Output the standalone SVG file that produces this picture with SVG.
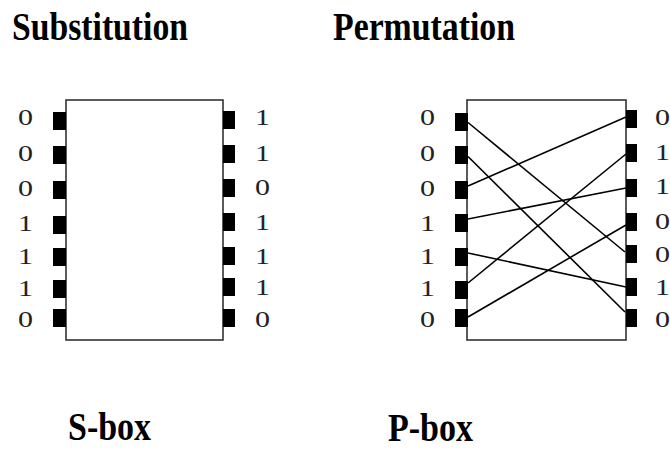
<svg xmlns="http://www.w3.org/2000/svg" width="670" height="450" viewBox="0 0 670 450">
<style>
.title{font-family:"Liberation Serif","Times New Roman",serif;font-weight:bold;font-size:41px;fill:#000}
.bit{font-family:"Liberation Serif","Times New Roman",serif;font-size:24px;fill:#222}
.box{fill:#fff;stroke:#333;stroke-width:1.6}
.pin{fill:#000}
.wire{stroke:#000;stroke-width:1.6;fill:none}
</style>
<rect width="670" height="450" fill="#fff"/>
<text class="title" x="12" y="40" textLength="176" lengthAdjust="spacingAndGlyphs">Substitution</text>
<text class="title" x="333" y="40" textLength="182" lengthAdjust="spacingAndGlyphs">Permutation</text>

<g id="sbox">
<rect class="box" x="66" y="100" width="157" height="240"/>
<g class="pin">
<rect x="53" y="112" width="13" height="18"/>
<rect x="53" y="146" width="13" height="18"/>
<rect x="53" y="181" width="13" height="18"/>
<rect x="53" y="216" width="13" height="18"/>
<rect x="53" y="248" width="13" height="18"/>
<rect x="53" y="280" width="13" height="18"/>
<rect x="53" y="309" width="13" height="18"/>
<rect x="223" y="111" width="12" height="18"/>
<rect x="223" y="145" width="12" height="18"/>
<rect x="223" y="179" width="12" height="18"/>
<rect x="223" y="213" width="12" height="18"/>
<rect x="223" y="247" width="12" height="18"/>
<rect x="223" y="278" width="12" height="18"/>
<rect x="223" y="309" width="12" height="18"/>
</g>
<text class="bit" x="18" y="125" textLength="15" lengthAdjust="spacingAndGlyphs">0</text>
<text class="bit" x="18" y="161" textLength="15" lengthAdjust="spacingAndGlyphs">0</text>
<text class="bit" x="18" y="196" textLength="15" lengthAdjust="spacingAndGlyphs">0</text>
<text class="bit" x="18" y="231" textLength="15" lengthAdjust="spacingAndGlyphs">1</text>
<text class="bit" x="18" y="264" textLength="15" lengthAdjust="spacingAndGlyphs">1</text>
<text class="bit" x="18" y="296" textLength="15" lengthAdjust="spacingAndGlyphs">1</text>
<text class="bit" x="18" y="327" textLength="15" lengthAdjust="spacingAndGlyphs">0</text>
<text class="bit" x="255" y="125" textLength="15" lengthAdjust="spacingAndGlyphs">1</text>
<text class="bit" x="255" y="161" textLength="15" lengthAdjust="spacingAndGlyphs">1</text>
<text class="bit" x="255" y="195" textLength="15" lengthAdjust="spacingAndGlyphs">0</text>
<text class="bit" x="255" y="230" textLength="15" lengthAdjust="spacingAndGlyphs">1</text>
<text class="bit" x="255" y="264" textLength="15" lengthAdjust="spacingAndGlyphs">1</text>
<text class="bit" x="255" y="295" textLength="15" lengthAdjust="spacingAndGlyphs">1</text>
<text class="bit" x="255" y="327" textLength="15" lengthAdjust="spacingAndGlyphs">0</text>
</g>

<g id="pbox">
<rect class="box" x="467" y="100" width="159" height="240"/>
<g class="pin">
<rect x="455" y="113" width="13" height="18"/>
<rect x="455" y="146" width="13" height="18"/>
<rect x="455" y="181" width="13" height="18"/>
<rect x="455" y="214" width="13" height="18"/>
<rect x="455" y="248" width="13" height="18"/>
<rect x="455" y="281" width="13" height="18"/>
<rect x="455" y="309" width="13" height="18"/>
<rect x="626" y="110" width="11" height="18"/>
<rect x="626" y="144" width="11" height="18"/>
<rect x="626" y="179" width="11" height="18"/>
<rect x="626" y="213" width="11" height="18"/>
<rect x="626" y="245" width="11" height="18"/>
<rect x="626" y="278" width="11" height="18"/>
<rect x="626" y="309" width="11" height="18"/>
</g>
<text class="bit" x="420" y="125" textLength="15" lengthAdjust="spacingAndGlyphs">0</text>
<text class="bit" x="420" y="161" textLength="15" lengthAdjust="spacingAndGlyphs">0</text>
<text class="bit" x="420" y="196" textLength="15" lengthAdjust="spacingAndGlyphs">0</text>
<text class="bit" x="420" y="231" textLength="15" lengthAdjust="spacingAndGlyphs">1</text>
<text class="bit" x="420" y="264" textLength="15" lengthAdjust="spacingAndGlyphs">1</text>
<text class="bit" x="420" y="296" textLength="15" lengthAdjust="spacingAndGlyphs">1</text>
<text class="bit" x="420" y="327" textLength="15" lengthAdjust="spacingAndGlyphs">0</text>
<text class="bit" x="655" y="125" textLength="15" lengthAdjust="spacingAndGlyphs">0</text>
<text class="bit" x="655" y="160" textLength="15" lengthAdjust="spacingAndGlyphs">1</text>
<text class="bit" x="655" y="194" textLength="15" lengthAdjust="spacingAndGlyphs">1</text>
<text class="bit" x="655" y="229" textLength="15" lengthAdjust="spacingAndGlyphs">0</text>
<text class="bit" x="655" y="262" textLength="15" lengthAdjust="spacingAndGlyphs">0</text>
<text class="bit" x="655" y="295" textLength="15" lengthAdjust="spacingAndGlyphs">1</text>
<text class="bit" x="655" y="327" textLength="15" lengthAdjust="spacingAndGlyphs">0</text>
</g>

<g id="connectors">
<line class="wire" x1="468" y1="122.5" x2="625" y2="252"/>
<line class="wire" x1="468" y1="156.5" x2="625" y2="312"/>
<line class="wire" x1="468" y1="186" x2="626" y2="117"/>
<line class="wire" x1="468" y1="219" x2="626" y2="188"/>
<line class="wire" x1="468" y1="253" x2="626" y2="287"/>
<line class="wire" x1="468" y1="283" x2="626" y2="154"/>
<line class="wire" x1="468" y1="317" x2="626" y2="225"/>
</g>

<text class="title" x="68" y="440" font-size="40" style="font-size:40px" textLength="83" lengthAdjust="spacingAndGlyphs">S-box</text>
<text class="title" x="388" y="441" style="font-size:39px" textLength="85" lengthAdjust="spacingAndGlyphs">P-box</text>
</svg>
